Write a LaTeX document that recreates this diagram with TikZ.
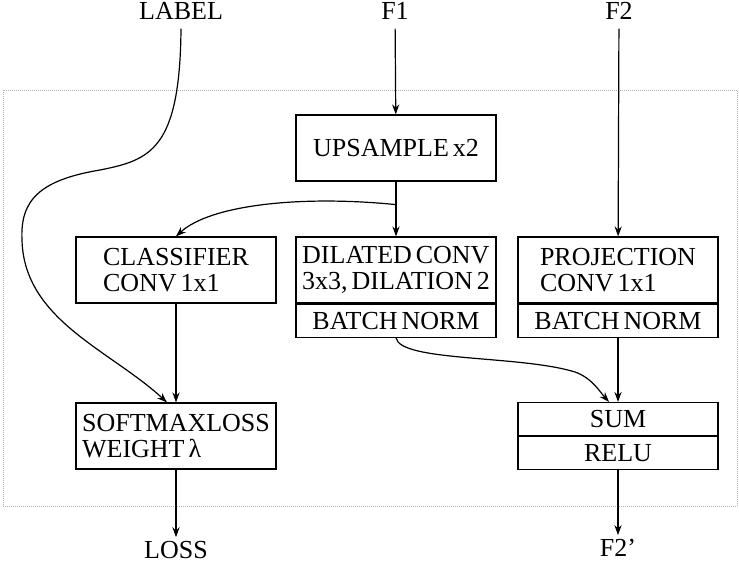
\documentclass[tikz,border=0pt]{standalone}
\usepackage{fontspec}
\setmainfont{Liberation Serif}[WordSpace=0.6]
\usetikzlibrary{arrows.meta, positioning, calc}

\newcommand{\boxfont}{\fontsize{13}{12.8}\selectfont}

\begin{document}
\begin{tikzpicture}[
        x=0.5pt, y=-0.5pt,
        block/.style={draw, rectangle, minimum width=100pt, minimum height=33pt, inner sep=0pt, align=left, font=\boxfont, line width=0.6pt},
        thin_block/.style={block, minimum height=16.5pt},
        io/.style={inner xsep=0pt, inner ysep=4.5pt, font=\boxfont},
        frame/.style={draw=gray!60, line width=0.4pt, dash pattern=on 0.5pt off 0.5pt},
        >={Stealth[length=5pt, width=3.6pt]},
        line width=0.6pt
    ]
        \useasboundingbox (0,0) rectangle (739,562);
        \draw[frame] (3,90) rectangle (737,506);

        % inputs and outputs
        \node[io, anchor=base] (label) at (181,19) {LABEL};
        \node[io, anchor=base] (f1) at (395,19) {F1};
        \node[io, anchor=base] (f2) at (619,19) {F2};
        \node[io, anchor=base, inner ysep=1.5pt] (loss) at (176,558) {LOSS};
        \node[io, anchor=base, inner ysep=1.5pt] (f2out) at (618,556) {F2’};

        % blocks
        \node[block] (upsample) at (396,148) {UPSAMPLE x2};
        \node[block] (classifier) at (176,270) {CLASSIFIER\\CONV 1x1};
        \node[block] (dilated) at (396,270) {DILATED CONV\\3x3, DILATION 2};
        \node[thin_block, below=0pt of dilated] (dilated_bn) {BATCH NORM};
        \node[block] (projection) at (618,270) {PROJECTION\\CONV 1x1};
        \node[thin_block, below=0pt of projection] (projection_bn) {BATCH NORM};
        \node[block] (softmax) at (176,436) {SOFTMAXLOSS\\WEIGHT λ};
        \node[thin_block] (sum) at (618,419) {SUM};
        \node[thin_block, below=0pt of sum] (relu) {RELU};

        \coordinate (fork) at ($(upsample.south)!0.42!(dilated.north)$);

        \draw[->] (f1) -- (upsample);
        \draw[->] (upsample) -- (dilated);
        \draw[->] (fork) .. controls (300,195) and (210,205) .. (classifier.north);
        \draw[->] (f2) -- (projection);
        \draw[->] (classifier) -- (softmax);
        \draw[->] (label.south) .. controls (180,150) and (150,160) .. (100,170)
            .. controls (40,180) and (20,200) .. (22,240)
            .. controls (24,320) and (110,350) .. ([xshift=-4.5pt]softmax.north);
        \draw[->] (dilated_bn.south) .. controls (400,362) and (520,355) .. (575,372)
            .. controls (592,378) and (600,392) .. ([xshift=-4.5pt]sum.north);
        \draw[->] (projection_bn) -- (sum);
        \draw[->] (softmax) -- (loss);
        \draw[->] (relu) -- (f2out);
    \end{tikzpicture}
\end{document}
